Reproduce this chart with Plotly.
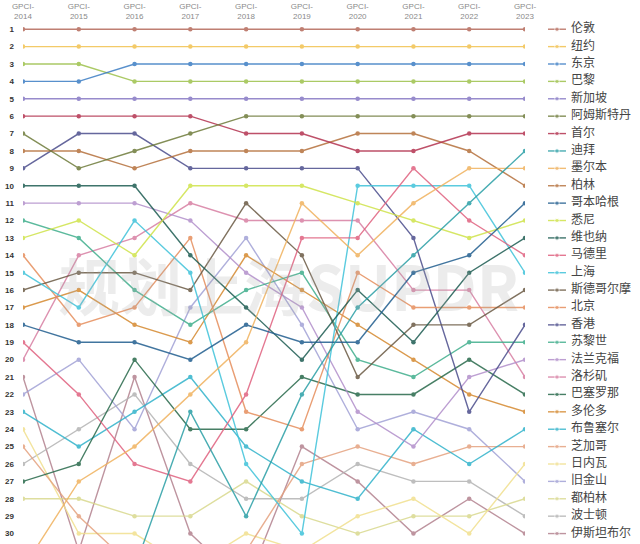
import plotly.graph_objects as go

years = ["2014", "2015", "2016", "2017", "2018", "2019", "2020", "2021", "2022", "2023"]
x_labels = ["GPCI-<br>" + y for y in years]

cities = ["伦敦", "纽约", "东京", "巴黎", "新加坡", "阿姆斯特丹", "首尔", "迪拜", "墨尔本", "柏林",
          "哥本哈根", "悉尼", "维也纳", "马德里", "上海", "斯德哥尔摩", "北京", "香港", "苏黎世", "法兰克福",
          "洛杉矶", "巴塞罗那", "多伦多", "布鲁塞尔", "芝加哥", "日内瓦", "旧金山", "都柏林", "波士顿", "伊斯坦布尔"]

colors = ["#b5695a", "#f2c14e", "#3b7dc4", "#9dc14b", "#8577c4", "#6e7b3a", "#b3324f", "#2a9fa6", "#f0b25e", "#b5703c",
          "#215e8f", "#cfe34a", "#1d5c52", "#e0617f", "#3fc3da", "#6b5a44", "#e68e5c", "#4b4d8c", "#3fae8c", "#b28fcb",
          "#d87fa3", "#28694b", "#d5892f", "#31b3cb", "#e5a27f", "#f1e08e", "#a2a2d6", "#d9d98e", "#b3b3b3", "#b3828f"]

london     = [1, 1, 1, 1, 1, 1, 1, 1, 1, 1]
new_york   = [2, 2, 2, 2, 2, 2, 2, 2, 2, 2]
tokyo      = [4, 4, 3, 3, 3, 3, 3, 3, 3, 3]
paris      = [3, 3, 4, 4, 4, 4, 4, 4, 4, 4]
singapore  = [5, 5, 5, 5, 5, 5, 5, 5, 5, 5]
amsterdam  = [7, 9, 8, 7, 6, 6, 6, 6, 6, 6]
seoul      = [6, 6, 6, 6, 7, 7, 8, 8, 7, 7]
dubai      = [34, 33, 32, 23, 29, 22, 17, 14, 11, 8]
melbourne  = [32, 27, 25, 22, 19, 11, 14, 11, 9, 9]
berlin     = [8, 8, 9, 8, 8, 8, 7, 7, 8, 10]
copenhagen = [18, 19, 19, 20, 18, 19, 19, 15, 14, 11]
sydney     = [13, 12, 14, 10, 10, 10, 11, 12, 13, 12]
vienna     = [10, 10, 10, 14, 17, 20, 16, 19, 15, 13]
madrid     = [19, 22, 26, 27, 22, 13, 13, 9, 12, 14]
shanghai   = [15, 17, 12, 15, 26, 30, 10, 10, 10, 15]
stockholm  = [16, 15, 15, 16, 11, 14, 21, 18, 18, 16]
beijing    = [14, 18, 17, 13, 23, 24, 15, 17, 17, 17]
hong_kong  = [9, 7, 7, 9, 9, 9, 9, 13, 23, 18]
zurich     = [12, 13, 16, 18, 16, 15, 20, 21, 19, 19]
frankfurt  = [11, 11, 11, 12, 15, 17, 23, 25, 21, 20]
los_angeles = [20, 14, 13, 11, 12, 12, 12, 16, 16, 21]
barcelona  = [27, 26, 20, 24, 24, 21, 22, 22, 20, 22]
toronto    = [17, 16, 18, 19, 14, 16, 18, 20, 22, 23]
brussels   = [23, 25, 23, 21, 25, 27, 28, 24, 26, 24]
chicago    = [25, 29, 32, 31, 31, 26, 25, 26, 25, 25]
geneva     = [24, 30, 30, 32, 30, 31, 29, 28, 30, 26]
san_francisco = [22, 20, 24, 17, 13, 18, 24, 23, 24, 27]
dublin     = [28, 28, 29, 29, 27, 29, 30, 29, 29, 28]
boston     = [26, 24, 22, 26, 28, 28, 26, 27, 27, 29]
istanbul   = [21, 31, 21, 30, 33, 25, 27, 30, 28, 30]

series = [london, new_york, tokyo, paris, singapore, amsterdam, seoul, dubai, melbourne, berlin,
          copenhagen, sydney, vienna, madrid, shanghai, stockholm, beijing, hong_kong, zurich, frankfurt,
          los_angeles, barcelona, toronto, brussels, chicago, geneva, san_francisco, dublin, boston, istanbul]

rank_ticks = list(range(1, 31))

fig = go.Figure()

for name, vals, col in reversed(list(zip(cities, series, colors))):
    fig.add_trace(go.Scatter(
        x=list(range(len(years))), y=vals, mode="lines+markers", name=name,
        line=dict(color=col, width=1.4), marker=dict(color=col, size=4.5),
        opacity=0.85, showlegend=False, xaxis="x", yaxis="y"))

# custom legend drawn on a side axis sharing the rank axis
for i, (name, col) in enumerate(zip(cities, colors)):
    pos = rank_ticks[i]
    fig.add_trace(go.Scatter(
        x=[13, 22, 31], y=[pos, pos, pos], mode="lines+markers",
        line=dict(color=col, width=1.4), marker=dict(color=col, size=[0, 4.5, 0]),
        opacity=0.85, showlegend=False, hoverinfo="skip", xaxis="x2", yaxis="y"))
fig.add_trace(go.Scatter(
    x=[36] * len(cities), y=rank_ticks[:len(cities)], mode="text", text=cities,
    textposition="middle right", textfont=dict(size=12, color="#444444", family="Noto Sans CJK SC"),
    showlegend=False, hoverinfo="skip", xaxis="x2", yaxis="y", cliponaxis=False))

fig.update_layout(
    width=640, height=544, autosize=False,
    margin=dict(l=23, r=0, t=24, b=0, autoexpand=False),
    paper_bgcolor="white", plot_bgcolor="white",
    xaxis=dict(domain=[0, 0.8136], range=[0, 9], side="top", automargin=False,
               tickmode="array", tickvals=list(range(len(years))), ticktext=x_labels,
               tickfont=dict(size=8, color="#8a8a8a", family="Liberation Sans"),
               showgrid=False, zeroline=False, showline=False, ticks="", ticklabelstandoff=2),
    xaxis2=dict(domain=[0.8298, 1], range=[0, 105], visible=False, anchor="y", automargin=False),
    yaxis=dict(range=[30.6, 0.7], tickmode="array", tickvals=rank_ticks, automargin=False,
               ticktext=[str(r) for r in rank_ticks],
               tickfont=dict(size=8, color="#333333", family="Liberation Sans", weight="bold"),
               showgrid=False, zeroline=False, showline=False, ticks="", ticklabelstandoff=8),
    annotations=[dict(text="<b>规划上海SUPDR</b>", xref="paper", yref="paper", x=0.43, y=0.5,
                      showarrow=False, font=dict(size=62, color="rgba(170,170,170,0.22)",
                                                 family="Noto Sans CJK SC"))],
)

fig.write_html("out.html")
